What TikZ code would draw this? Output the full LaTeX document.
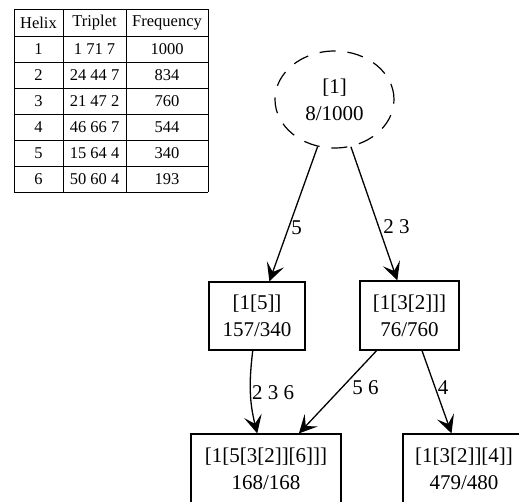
\documentclass[tikz,border=0pt]{standalone}
\usepackage{fontspec}
\setmainfont{Liberation Serif}
\usetikzlibrary{shapes.geometric,arrows.meta}

\tikzset{
  state/.style={draw, line width=1.2pt, rectangle, align=center, inner sep=0pt,
    font=\fontsize{21}{27}\selectfont},
  root/.style={draw, line width=1.2pt, ellipse, dash pattern=on 16pt off 12pt,
    align=center, inner sep=0pt, minimum width=119pt, minimum height=97pt,
    font=\fontsize{21}{27}\selectfont},
  link/.style={line width=1.3pt, -{Stealth[length=18pt, width=18pt, inset=8pt]}},
  lbl/.style={font=\fontsize{21}{25}\selectfont, inner sep=2pt, anchor=west},
  cell/.style={font=\fontsize{16.5}{20}\selectfont, inner sep=0pt},
  rule/.style={line width=0.9pt}
}

\begin{document}
\begin{tikzpicture}[x=1pt, y=-1pt]
  \useasboundingbox (0,0) rectangle (519,501);

  % helix table
  \foreach \yy in {9,36,62,88,114,140,166,192}
    \draw[rule] (14,\yy) -- (208,\yy);
  \foreach \xx in {14,63,126,208}
    \draw[rule] (\xx,9) -- (\xx,192);
  \node[cell] (h0) at (38.5,22.5) {Helix};
  \node[cell] (t0) at (94.5,22.5) {Triplet};
  \node[cell] (f0) at (167,22.5) {Frequency};
  \foreach \n/\h/\t/\f in {1/1/1 71 7/1000, 2/2/24 44 7/834, 3/3/21 47 2/760,
                           4/4/46 66 7/544, 5/5/15 64 4/340, 6/6/50 60 4/193} {
    \pgfmathsetmacro{\yc}{36+26*(\n-1)+13}
    \node[cell] (h\n) at (38.5,\yc) {\h};
    \node[cell] (t\n) at (94.5,\yc) {\t};
    \node[cell] (f\n) at (167,\yc) {\f};
  }

  % tree of states
  \node[root] (r) at (334.5,99.5) {[1]\\8/1000};
  \node[state, minimum width=96pt, minimum height=68pt] (a) at (257,316) {[1[5]]\\157/340};
  \node[state, minimum width=99pt, minimum height=69pt] (b) at (409.5,315.5) {[1[3[2]]]\\76/760};
  \node[state, minimum width=150pt, minimum height=69pt] (c) at (266,468.5) {[1[5[3[2]][6]]]\\168/168};
  \node[state, minimum width=122pt, minimum height=69pt] (d) at (464,468.5) {[1[3[2]][4]]\\479/480};

  \draw[link] (r) -- node[lbl, pos=0.6] (l1) {5} (a);
  \draw[link] (r) -- node[lbl, pos=0.6, xshift=2pt] (l2) {2 3} (b);
  \draw[link] (a) to[out=-97, in=104] node[lbl, pos=0.5, inner sep=1pt] (l3) {2 3 6} (c);
  \draw[link] (b) -- node[lbl, pos=0.45, xshift=8pt] (l4) {5 6} (c);
  \draw[link] (b) -- node[lbl, pos=0.45] (l5) {4} (d);
\end{tikzpicture}
\end{document}
